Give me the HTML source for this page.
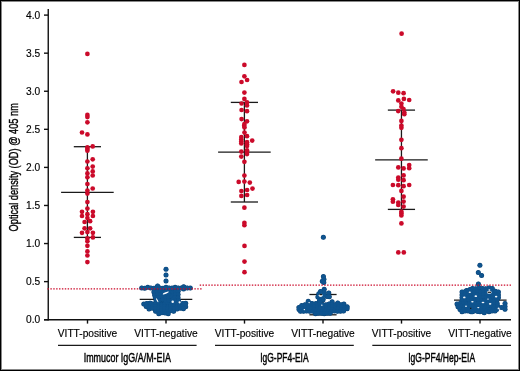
<!DOCTYPE html>
<html><head><meta charset="utf-8"><style>
html,body{margin:0;padding:0;background:#fff;}
#f{position:relative;width:520px;height:371px;overflow:hidden;background:#fff;}
#f svg{position:absolute;left:0;top:0;display:block;will-change:transform;}
#bd{position:absolute;left:0;top:0;width:518px;height:369px;border:1px solid #000;box-shadow:inset 0 0 0 1px #888;}
</style></head><body><div id="f">
<svg width="520" height="371" viewBox="0 0 520 371">
<g stroke="#111" stroke-width="1.4" fill="none">
<line x1="48.25" y1="9" x2="48.25" y2="320.4"/>
<line x1="44" y1="319.7" x2="511" y2="319.7"/>
<line x1="44" y1="319.70" x2="48.3" y2="319.70"/><line x1="44" y1="281.62" x2="48.3" y2="281.62"/><line x1="44" y1="243.55" x2="48.3" y2="243.55"/><line x1="44" y1="205.47" x2="48.3" y2="205.47"/><line x1="44" y1="167.40" x2="48.3" y2="167.40"/><line x1="44" y1="129.32" x2="48.3" y2="129.32"/><line x1="44" y1="91.25" x2="48.3" y2="91.25"/><line x1="44" y1="53.17" x2="48.3" y2="53.17"/><line x1="44" y1="15.10" x2="48.3" y2="15.10"/><line x1="87.5" y1="319.7" x2="87.5" y2="323.6"/><line x1="166" y1="319.7" x2="166" y2="323.6"/><line x1="244.5" y1="319.7" x2="244.5" y2="323.6"/><line x1="323" y1="319.7" x2="323" y2="323.6"/><line x1="401.5" y1="319.7" x2="401.5" y2="323.6"/><line x1="480" y1="319.7" x2="480" y2="323.6"/>
</g>
<g stroke="#1a1a1a" stroke-width="1.3" fill="none"><line x1="58" y1="345.4" x2="196.6" y2="345.4"/><line x1="215" y1="345.4" x2="353.8" y2="345.4"/><line x1="372.3" y1="345.4" x2="511" y2="345.4"/></g>
<g font-family="Liberation Sans, sans-serif" font-size="10.2" fill="#000" stroke="#000" stroke-width="0.15"><text x="40.2" y="323.10" text-anchor="end">0.0</text><text x="40.2" y="285.02" text-anchor="end">0.5</text><text x="40.2" y="246.95" text-anchor="end">1.0</text><text x="40.2" y="208.87" text-anchor="end">1.5</text><text x="40.2" y="170.80" text-anchor="end">2.0</text><text x="40.2" y="132.72" text-anchor="end">2.5</text><text x="40.2" y="94.65" text-anchor="end">3.0</text><text x="40.2" y="56.57" text-anchor="end">3.5</text><text x="40.2" y="18.50" text-anchor="end">4.0</text></g>
<g font-family="Liberation Sans, sans-serif" font-size="10.2" fill="#000" stroke="#000" stroke-width="0.15"><text x="87.5" y="336.6" text-anchor="middle">VITT-positive</text><text x="166" y="336.6" text-anchor="middle">VITT-negative</text><text x="244.5" y="336.6" text-anchor="middle">VITT-positive</text><text x="323" y="336.6" text-anchor="middle">VITT-negative</text><text x="401.5" y="336.6" text-anchor="middle">VITT-positive</text><text x="480" y="336.6" text-anchor="middle">VITT-negative</text></g>
<g font-family="Liberation Sans, sans-serif" font-size="12.8" fill="#000" stroke="#000" stroke-width="0.45"><text transform="translate(127.30 361.9) scale(0.698 1)" text-anchor="middle">Immucor IgG/A/M-EIA</text><text transform="translate(284.40 361.9) scale(0.661 1)" text-anchor="middle">IgG-PF4-EIA</text><text transform="translate(441.65 361.9) scale(0.6675 1)" text-anchor="middle">IgG-PF4/Hep-EIA</text></g>
<text transform="translate(17.7 167.3) rotate(-90) scale(0.684 1)" text-anchor="middle" font-family="Liberation Sans, sans-serif" font-size="13.5" fill="#000" stroke="#000" stroke-width="0.4">Optical density (OD) @ 405 nm</text>

<g stroke="#1a1a1a" stroke-width="1.3" fill="none">
<line x1="87.4" y1="146.7" x2="87.4" y2="237.4"/><line x1="73.80000000000001" y1="146.7" x2="101.0" y2="146.7"/><line x1="61.10000000000001" y1="192.4" x2="113.7" y2="192.4"/><line x1="73.80000000000001" y1="237.4" x2="101.0" y2="237.4"/>
<line x1="244.4" y1="102.4" x2="244.4" y2="202.0"/><line x1="230.8" y1="102.4" x2="258.0" y2="102.4"/><line x1="218.1" y1="152.1" x2="270.7" y2="152.1"/><line x1="230.8" y1="202.0" x2="258.0" y2="202.0"/>
<line x1="401.45" y1="110.1" x2="401.45" y2="209.4"/><line x1="387.84999999999997" y1="110.1" x2="415.05" y2="110.1"/><line x1="375.15" y1="159.8" x2="427.75" y2="159.8"/><line x1="387.84999999999997" y1="209.4" x2="415.05" y2="209.4"/>
<line x1="166" y1="293" x2="166" y2="308"/><line x1="152.4" y1="293" x2="179.6" y2="293"/><line x1="139.7" y1="299.3" x2="192.3" y2="299.3"/><line x1="152.4" y1="308" x2="179.6" y2="308"/>
<line x1="323" y1="294.5" x2="323" y2="314.8"/><line x1="309.4" y1="294.5" x2="336.6" y2="294.5"/><line x1="296.7" y1="306.8" x2="349.3" y2="306.8"/><line x1="309.4" y1="314.8" x2="336.6" y2="314.8"/>
<line x1="480.3" y1="291.7" x2="480.3" y2="308.5"/><line x1="466.7" y1="291.7" x2="493.90000000000003" y2="291.7"/><line x1="454.0" y1="300.1" x2="506.6" y2="300.1"/><line x1="466.7" y1="308.5" x2="493.90000000000003" y2="308.5"/>
</g>
<circle cx="87.40" cy="53.90" r="2.35" fill="#cb0a2a"/>
<circle cx="87.40" cy="114.90" r="2.35" fill="#cb0a2a"/>
<circle cx="87.40" cy="117.10" r="2.35" fill="#cb0a2a"/>
<circle cx="87.40" cy="122.30" r="2.35" fill="#cb0a2a"/>
<circle cx="82.00" cy="132.50" r="2.35" fill="#cb0a2a"/>
<circle cx="87.40" cy="134.40" r="2.35" fill="#cb0a2a"/>
<circle cx="92.70" cy="146.40" r="2.35" fill="#cb0a2a"/>
<circle cx="87.40" cy="147.40" r="2.35" fill="#cb0a2a"/>
<circle cx="87.40" cy="149.00" r="2.35" fill="#cb0a2a"/>
<circle cx="87.40" cy="150.70" r="2.35" fill="#cb0a2a"/>
<circle cx="92.70" cy="159.30" r="2.35" fill="#cb0a2a"/>
<circle cx="87.40" cy="161.50" r="2.35" fill="#cb0a2a"/>
<circle cx="92.70" cy="166.60" r="2.35" fill="#cb0a2a"/>
<circle cx="87.40" cy="168.30" r="2.35" fill="#cb0a2a"/>
<circle cx="92.70" cy="171.40" r="2.35" fill="#cb0a2a"/>
<circle cx="87.40" cy="173.40" r="2.35" fill="#cb0a2a"/>
<circle cx="92.70" cy="175.50" r="2.35" fill="#cb0a2a"/>
<circle cx="87.40" cy="177.30" r="2.35" fill="#cb0a2a"/>
<circle cx="87.40" cy="184.00" r="2.35" fill="#cb0a2a"/>
<circle cx="92.70" cy="188.50" r="2.35" fill="#cb0a2a"/>
<circle cx="87.40" cy="190.60" r="2.35" fill="#cb0a2a"/>
<circle cx="87.40" cy="193.60" r="2.35" fill="#cb0a2a"/>
<circle cx="87.40" cy="202.10" r="2.35" fill="#cb0a2a"/>
<circle cx="87.40" cy="208.60" r="2.35" fill="#cb0a2a"/>
<circle cx="82.00" cy="211.80" r="2.35" fill="#cb0a2a"/>
<circle cx="92.90" cy="211.80" r="2.35" fill="#cb0a2a"/>
<circle cx="87.40" cy="214.20" r="2.35" fill="#cb0a2a"/>
<circle cx="82.00" cy="216.00" r="2.35" fill="#cb0a2a"/>
<circle cx="92.90" cy="216.00" r="2.35" fill="#cb0a2a"/>
<circle cx="87.40" cy="218.00" r="2.35" fill="#cb0a2a"/>
<circle cx="84.60" cy="222.00" r="2.35" fill="#cb0a2a"/>
<circle cx="90.10" cy="221.20" r="2.35" fill="#cb0a2a"/>
<circle cx="84.60" cy="228.30" r="2.35" fill="#cb0a2a"/>
<circle cx="90.10" cy="228.30" r="2.35" fill="#cb0a2a"/>
<circle cx="82.00" cy="232.80" r="2.35" fill="#cb0a2a"/>
<circle cx="87.40" cy="232.10" r="2.35" fill="#cb0a2a"/>
<circle cx="92.90" cy="232.80" r="2.35" fill="#cb0a2a"/>
<circle cx="87.40" cy="238.40" r="2.35" fill="#cb0a2a"/>
<circle cx="92.90" cy="237.40" r="2.35" fill="#cb0a2a"/>
<circle cx="87.40" cy="241.30" r="2.35" fill="#cb0a2a"/>
<circle cx="87.40" cy="245.80" r="2.35" fill="#cb0a2a"/>
<circle cx="87.40" cy="251.40" r="2.35" fill="#cb0a2a"/>
<circle cx="87.40" cy="255.50" r="2.35" fill="#cb0a2a"/>
<circle cx="87.40" cy="262.10" r="2.35" fill="#cb0a2a"/>
<circle cx="244.40" cy="64.90" r="2.35" fill="#cb0a2a"/>
<circle cx="244.40" cy="76.30" r="2.35" fill="#cb0a2a"/>
<circle cx="247.10" cy="80.00" r="2.35" fill="#cb0a2a"/>
<circle cx="241.50" cy="82.00" r="2.35" fill="#cb0a2a"/>
<circle cx="244.40" cy="92.60" r="2.35" fill="#cb0a2a"/>
<circle cx="244.40" cy="98.90" r="2.35" fill="#cb0a2a"/>
<circle cx="241.60" cy="103.50" r="2.35" fill="#cb0a2a"/>
<circle cx="247.00" cy="102.40" r="2.35" fill="#cb0a2a"/>
<circle cx="247.00" cy="105.50" r="2.35" fill="#cb0a2a"/>
<circle cx="241.60" cy="110.00" r="2.35" fill="#cb0a2a"/>
<circle cx="247.00" cy="111.20" r="2.35" fill="#cb0a2a"/>
<circle cx="241.60" cy="119.10" r="2.35" fill="#cb0a2a"/>
<circle cx="247.00" cy="121.30" r="2.35" fill="#cb0a2a"/>
<circle cx="244.40" cy="124.00" r="2.35" fill="#cb0a2a"/>
<circle cx="244.20" cy="125.80" r="2.35" fill="#cb0a2a"/>
<circle cx="244.50" cy="127.50" r="2.35" fill="#cb0a2a"/>
<circle cx="244.50" cy="132.60" r="2.35" fill="#cb0a2a"/>
<circle cx="247.00" cy="136.20" r="2.35" fill="#cb0a2a"/>
<circle cx="241.30" cy="137.00" r="2.35" fill="#cb0a2a"/>
<circle cx="241.30" cy="139.40" r="2.35" fill="#cb0a2a"/>
<circle cx="241.30" cy="141.60" r="2.35" fill="#cb0a2a"/>
<circle cx="241.30" cy="143.50" r="2.35" fill="#cb0a2a"/>
<circle cx="252.20" cy="140.60" r="2.35" fill="#cb0a2a"/>
<circle cx="247.00" cy="142.20" r="2.35" fill="#cb0a2a"/>
<circle cx="247.00" cy="144.20" r="2.35" fill="#cb0a2a"/>
<circle cx="247.00" cy="145.90" r="2.35" fill="#cb0a2a"/>
<circle cx="241.30" cy="151.60" r="2.35" fill="#cb0a2a"/>
<circle cx="247.00" cy="150.30" r="2.35" fill="#cb0a2a"/>
<circle cx="247.00" cy="152.10" r="2.35" fill="#cb0a2a"/>
<circle cx="247.00" cy="154.10" r="2.35" fill="#cb0a2a"/>
<circle cx="241.30" cy="156.60" r="2.35" fill="#cb0a2a"/>
<circle cx="244.40" cy="161.80" r="2.35" fill="#cb0a2a"/>
<circle cx="244.40" cy="175.60" r="2.35" fill="#cb0a2a"/>
<circle cx="238.70" cy="181.90" r="2.35" fill="#cb0a2a"/>
<circle cx="244.40" cy="181.60" r="2.35" fill="#cb0a2a"/>
<circle cx="249.80" cy="182.60" r="2.35" fill="#cb0a2a"/>
<circle cx="252.50" cy="188.60" r="2.35" fill="#cb0a2a"/>
<circle cx="241.40" cy="191.00" r="2.35" fill="#cb0a2a"/>
<circle cx="247.10" cy="190.00" r="2.35" fill="#cb0a2a"/>
<circle cx="241.40" cy="195.90" r="2.35" fill="#cb0a2a"/>
<circle cx="247.10" cy="195.00" r="2.35" fill="#cb0a2a"/>
<circle cx="244.40" cy="207.70" r="2.35" fill="#cb0a2a"/>
<circle cx="244.40" cy="222.80" r="2.35" fill="#cb0a2a"/>
<circle cx="244.40" cy="225.20" r="2.35" fill="#cb0a2a"/>
<circle cx="244.50" cy="245.90" r="2.35" fill="#cb0a2a"/>
<circle cx="244.50" cy="261.60" r="2.35" fill="#cb0a2a"/>
<circle cx="244.50" cy="272.20" r="2.35" fill="#cb0a2a"/>
<circle cx="401.60" cy="33.70" r="2.35" fill="#cb0a2a"/>
<circle cx="393.10" cy="91.30" r="2.35" fill="#cb0a2a"/>
<circle cx="398.30" cy="92.70" r="2.35" fill="#cb0a2a"/>
<circle cx="403.60" cy="93.20" r="2.35" fill="#cb0a2a"/>
<circle cx="403.90" cy="98.90" r="2.35" fill="#cb0a2a"/>
<circle cx="409.20" cy="100.00" r="2.35" fill="#cb0a2a"/>
<circle cx="398.30" cy="100.40" r="2.35" fill="#cb0a2a"/>
<circle cx="401.40" cy="103.60" r="2.35" fill="#cb0a2a"/>
<circle cx="401.40" cy="106.80" r="2.35" fill="#cb0a2a"/>
<circle cx="403.50" cy="109.00" r="2.35" fill="#cb0a2a"/>
<circle cx="398.20" cy="111.10" r="2.35" fill="#cb0a2a"/>
<circle cx="404.30" cy="112.50" r="2.35" fill="#cb0a2a"/>
<circle cx="404.30" cy="114.20" r="2.35" fill="#cb0a2a"/>
<circle cx="401.40" cy="120.90" r="2.35" fill="#cb0a2a"/>
<circle cx="401.40" cy="125.60" r="2.35" fill="#cb0a2a"/>
<circle cx="401.40" cy="127.80" r="2.35" fill="#cb0a2a"/>
<circle cx="401.40" cy="139.80" r="2.35" fill="#cb0a2a"/>
<circle cx="401.40" cy="148.20" r="2.35" fill="#cb0a2a"/>
<circle cx="401.40" cy="158.70" r="2.35" fill="#cb0a2a"/>
<circle cx="409.20" cy="165.00" r="2.35" fill="#cb0a2a"/>
<circle cx="398.30" cy="167.40" r="2.35" fill="#cb0a2a"/>
<circle cx="403.60" cy="168.40" r="2.35" fill="#cb0a2a"/>
<circle cx="409.20" cy="168.20" r="2.35" fill="#cb0a2a"/>
<circle cx="403.60" cy="175.40" r="2.35" fill="#cb0a2a"/>
<circle cx="398.30" cy="177.50" r="2.35" fill="#cb0a2a"/>
<circle cx="398.30" cy="179.70" r="2.35" fill="#cb0a2a"/>
<circle cx="403.60" cy="180.20" r="2.35" fill="#cb0a2a"/>
<circle cx="392.90" cy="185.00" r="2.35" fill="#cb0a2a"/>
<circle cx="398.30" cy="185.20" r="2.35" fill="#cb0a2a"/>
<circle cx="403.60" cy="186.20" r="2.35" fill="#cb0a2a"/>
<circle cx="409.20" cy="185.00" r="2.35" fill="#cb0a2a"/>
<circle cx="401.40" cy="190.90" r="2.35" fill="#cb0a2a"/>
<circle cx="403.60" cy="196.70" r="2.35" fill="#cb0a2a"/>
<circle cx="392.90" cy="199.30" r="2.35" fill="#cb0a2a"/>
<circle cx="392.90" cy="201.70" r="2.35" fill="#cb0a2a"/>
<circle cx="398.30" cy="202.50" r="2.35" fill="#cb0a2a"/>
<circle cx="398.30" cy="205.00" r="2.35" fill="#cb0a2a"/>
<circle cx="403.60" cy="201.60" r="2.35" fill="#cb0a2a"/>
<circle cx="403.60" cy="206.60" r="2.35" fill="#cb0a2a"/>
<circle cx="401.40" cy="211.70" r="2.35" fill="#cb0a2a"/>
<circle cx="401.40" cy="213.40" r="2.35" fill="#cb0a2a"/>
<circle cx="401.40" cy="215.50" r="2.35" fill="#cb0a2a"/>
<circle cx="401.40" cy="223.40" r="2.35" fill="#cb0a2a"/>
<circle cx="398.30" cy="252.40" r="2.35" fill="#cb0a2a"/>
<circle cx="403.80" cy="252.40" r="2.35" fill="#cb0a2a"/>
<circle cx="166.00" cy="269.20" r="2.5" fill="#0a4274"/>
<circle cx="166.00" cy="275.00" r="2.5" fill="#0a4274"/>
<circle cx="166.00" cy="281.00" r="2.5" fill="#0a4274"/>
<circle cx="141.70" cy="287.95" r="2.5" fill="#0a4274"/>
<circle cx="144.74" cy="288.14" r="2.5" fill="#0a4274"/>
<circle cx="147.77" cy="287.31" r="2.5" fill="#0a4274"/>
<circle cx="150.81" cy="287.96" r="2.5" fill="#0a4274"/>
<circle cx="153.85" cy="288.13" r="2.5" fill="#0a4274"/>
<circle cx="156.89" cy="287.31" r="2.5" fill="#0a4274"/>
<circle cx="159.93" cy="287.96" r="2.5" fill="#0a4274"/>
<circle cx="162.96" cy="288.13" r="2.5" fill="#0a4274"/>
<circle cx="166.00" cy="287.31" r="2.5" fill="#0a4274"/>
<circle cx="169.04" cy="287.97" r="2.5" fill="#0a4274"/>
<circle cx="172.07" cy="288.12" r="2.5" fill="#0a4274"/>
<circle cx="175.11" cy="287.31" r="2.5" fill="#0a4274"/>
<circle cx="178.15" cy="287.98" r="2.5" fill="#0a4274"/>
<circle cx="181.19" cy="288.11" r="2.5" fill="#0a4274"/>
<circle cx="184.23" cy="287.31" r="2.5" fill="#0a4274"/>
<circle cx="187.26" cy="287.99" r="2.5" fill="#0a4274"/>
<circle cx="190.30" cy="288.11" r="2.5" fill="#0a4274"/>
<circle cx="157.60" cy="286.00" r="2.5" fill="#0a4274"/>
<circle cx="183.60" cy="286.80" r="2.5" fill="#0a4274"/>
<circle cx="183.60" cy="288.90" r="2.5" fill="#0a4274"/>
<circle cx="161.00" cy="288.60" r="2.5" fill="#0a4274"/>
<circle cx="172.00" cy="288.40" r="2.5" fill="#0a4274"/>
<circle cx="153.90" cy="292.02" r="2.5" fill="#0a4274"/>
<circle cx="156.93" cy="291.62" r="2.5" fill="#0a4274"/>
<circle cx="159.95" cy="291.16" r="2.5" fill="#0a4274"/>
<circle cx="162.97" cy="292.03" r="2.5" fill="#0a4274"/>
<circle cx="166.00" cy="291.61" r="2.5" fill="#0a4274"/>
<circle cx="169.03" cy="291.16" r="2.5" fill="#0a4274"/>
<circle cx="172.05" cy="292.03" r="2.5" fill="#0a4274"/>
<circle cx="175.07" cy="291.60" r="2.5" fill="#0a4274"/>
<circle cx="178.10" cy="291.17" r="2.5" fill="#0a4274"/>
<circle cx="154.60" cy="295.05" r="2.5" fill="#0a4274"/>
<circle cx="157.54" cy="294.19" r="2.5" fill="#0a4274"/>
<circle cx="160.47" cy="294.56" r="2.5" fill="#0a4274"/>
<circle cx="163.41" cy="295.05" r="2.5" fill="#0a4274"/>
<circle cx="166.35" cy="294.19" r="2.5" fill="#0a4274"/>
<circle cx="169.29" cy="294.57" r="2.5" fill="#0a4274"/>
<circle cx="172.22" cy="295.05" r="2.5" fill="#0a4274"/>
<circle cx="175.16" cy="294.18" r="2.5" fill="#0a4274"/>
<circle cx="178.10" cy="294.58" r="2.5" fill="#0a4274"/>
<circle cx="155.30" cy="297.54" r="2.5" fill="#0a4274"/>
<circle cx="158.54" cy="297.56" r="2.5" fill="#0a4274"/>
<circle cx="161.79" cy="296.80" r="2.5" fill="#0a4274"/>
<circle cx="165.03" cy="297.55" r="2.5" fill="#0a4274"/>
<circle cx="168.27" cy="297.55" r="2.5" fill="#0a4274"/>
<circle cx="171.51" cy="296.80" r="2.5" fill="#0a4274"/>
<circle cx="174.76" cy="297.55" r="2.5" fill="#0a4274"/>
<circle cx="178.00" cy="297.54" r="2.5" fill="#0a4274"/>
<circle cx="143.80" cy="304.08" r="2.5" fill="#0a4274"/>
<circle cx="146.79" cy="303.47" r="2.5" fill="#0a4274"/>
<circle cx="149.79" cy="303.25" r="2.5" fill="#0a4274"/>
<circle cx="152.78" cy="304.08" r="2.5" fill="#0a4274"/>
<circle cx="155.77" cy="303.46" r="2.5" fill="#0a4274"/>
<circle cx="158.76" cy="303.25" r="2.5" fill="#0a4274"/>
<circle cx="161.76" cy="304.09" r="2.5" fill="#0a4274"/>
<circle cx="164.75" cy="303.46" r="2.5" fill="#0a4274"/>
<circle cx="167.74" cy="303.26" r="2.5" fill="#0a4274"/>
<circle cx="170.74" cy="304.09" r="2.5" fill="#0a4274"/>
<circle cx="173.73" cy="303.45" r="2.5" fill="#0a4274"/>
<circle cx="176.72" cy="303.27" r="2.5" fill="#0a4274"/>
<circle cx="179.71" cy="304.09" r="2.5" fill="#0a4274"/>
<circle cx="182.71" cy="303.44" r="2.5" fill="#0a4274"/>
<circle cx="185.70" cy="303.27" r="2.5" fill="#0a4274"/>
<circle cx="146.20" cy="306.45" r="2.5" fill="#0a4274"/>
<circle cx="149.24" cy="306.80" r="2.5" fill="#0a4274"/>
<circle cx="152.28" cy="305.94" r="2.5" fill="#0a4274"/>
<circle cx="155.32" cy="306.46" r="2.5" fill="#0a4274"/>
<circle cx="158.35" cy="306.80" r="2.5" fill="#0a4274"/>
<circle cx="161.39" cy="305.94" r="2.5" fill="#0a4274"/>
<circle cx="164.43" cy="306.47" r="2.5" fill="#0a4274"/>
<circle cx="167.47" cy="306.79" r="2.5" fill="#0a4274"/>
<circle cx="170.51" cy="305.94" r="2.5" fill="#0a4274"/>
<circle cx="173.55" cy="306.47" r="2.5" fill="#0a4274"/>
<circle cx="176.58" cy="306.79" r="2.5" fill="#0a4274"/>
<circle cx="179.62" cy="305.93" r="2.5" fill="#0a4274"/>
<circle cx="182.66" cy="306.48" r="2.5" fill="#0a4274"/>
<circle cx="185.70" cy="306.78" r="2.5" fill="#0a4274"/>
<circle cx="149.00" cy="309.00" r="2.5" fill="#0a4274"/>
<circle cx="152.13" cy="308.14" r="2.5" fill="#0a4274"/>
<circle cx="155.25" cy="308.66" r="2.5" fill="#0a4274"/>
<circle cx="158.38" cy="309.00" r="2.5" fill="#0a4274"/>
<circle cx="161.51" cy="308.14" r="2.5" fill="#0a4274"/>
<circle cx="164.64" cy="308.67" r="2.5" fill="#0a4274"/>
<circle cx="167.76" cy="308.99" r="2.5" fill="#0a4274"/>
<circle cx="170.89" cy="308.14" r="2.5" fill="#0a4274"/>
<circle cx="174.02" cy="308.67" r="2.5" fill="#0a4274"/>
<circle cx="177.15" cy="308.99" r="2.5" fill="#0a4274"/>
<circle cx="180.27" cy="308.13" r="2.5" fill="#0a4274"/>
<circle cx="183.40" cy="308.68" r="2.5" fill="#0a4274"/>
<circle cx="155.60" cy="311.32" r="2.5" fill="#0a4274"/>
<circle cx="158.60" cy="311.17" r="2.5" fill="#0a4274"/>
<circle cx="161.60" cy="310.51" r="2.5" fill="#0a4274"/>
<circle cx="164.60" cy="311.33" r="2.5" fill="#0a4274"/>
<circle cx="167.60" cy="311.16" r="2.5" fill="#0a4274"/>
<circle cx="170.60" cy="310.51" r="2.5" fill="#0a4274"/>
<circle cx="173.60" cy="311.33" r="2.5" fill="#0a4274"/>
<circle cx="158.80" cy="313.67" r="2.5" fill="#0a4274"/>
<circle cx="161.93" cy="312.82" r="2.5" fill="#0a4274"/>
<circle cx="165.07" cy="313.11" r="2.5" fill="#0a4274"/>
<circle cx="168.20" cy="313.67" r="2.5" fill="#0a4274"/>
<circle cx="150.50" cy="303.30" r="2.5" fill="#0a4274"/>
<circle cx="184.80" cy="304.00" r="2.5" fill="#0a4274"/>
<circle cx="156.00" cy="300.79" r="2.5" fill="#0a4274"/>
<circle cx="159.21" cy="300.47" r="2.5" fill="#0a4274"/>
<circle cx="162.43" cy="299.94" r="2.5" fill="#0a4274"/>
<circle cx="165.64" cy="300.80" r="2.5" fill="#0a4274"/>
<circle cx="168.86" cy="300.46" r="2.5" fill="#0a4274"/>
<circle cx="172.07" cy="299.94" r="2.5" fill="#0a4274"/>
<circle cx="175.29" cy="300.80" r="2.5" fill="#0a4274"/>
<circle cx="178.50" cy="300.45" r="2.5" fill="#0a4274"/>
<circle cx="166.00" cy="269.20" r="2.15" fill="#0f548f"/>
<circle cx="166.00" cy="275.00" r="2.15" fill="#0f548f"/>
<circle cx="166.00" cy="281.00" r="2.15" fill="#0f548f"/>
<circle cx="141.70" cy="287.95" r="2.15" fill="#0f548f"/>
<circle cx="144.74" cy="288.14" r="2.15" fill="#0f548f"/>
<circle cx="147.77" cy="287.31" r="2.15" fill="#0f548f"/>
<circle cx="150.81" cy="287.96" r="2.15" fill="#0f548f"/>
<circle cx="153.85" cy="288.13" r="2.15" fill="#0f548f"/>
<circle cx="156.89" cy="287.31" r="2.15" fill="#0f548f"/>
<circle cx="159.93" cy="287.96" r="2.15" fill="#0f548f"/>
<circle cx="162.96" cy="288.13" r="2.15" fill="#0f548f"/>
<circle cx="166.00" cy="287.31" r="2.15" fill="#0f548f"/>
<circle cx="169.04" cy="287.97" r="2.15" fill="#0f548f"/>
<circle cx="172.07" cy="288.12" r="2.15" fill="#0f548f"/>
<circle cx="175.11" cy="287.31" r="2.15" fill="#0f548f"/>
<circle cx="178.15" cy="287.98" r="2.15" fill="#0f548f"/>
<circle cx="181.19" cy="288.11" r="2.15" fill="#0f548f"/>
<circle cx="184.23" cy="287.31" r="2.15" fill="#0f548f"/>
<circle cx="187.26" cy="287.99" r="2.15" fill="#0f548f"/>
<circle cx="190.30" cy="288.11" r="2.15" fill="#0f548f"/>
<circle cx="157.60" cy="286.00" r="2.15" fill="#0f548f"/>
<circle cx="183.60" cy="286.80" r="2.15" fill="#0f548f"/>
<circle cx="183.60" cy="288.90" r="2.15" fill="#0f548f"/>
<circle cx="161.00" cy="288.60" r="2.15" fill="#0f548f"/>
<circle cx="172.00" cy="288.40" r="2.15" fill="#0f548f"/>
<circle cx="153.90" cy="292.02" r="2.15" fill="#0f548f"/>
<circle cx="156.93" cy="291.62" r="2.15" fill="#0f548f"/>
<circle cx="159.95" cy="291.16" r="2.15" fill="#0f548f"/>
<circle cx="162.97" cy="292.03" r="2.15" fill="#0f548f"/>
<circle cx="166.00" cy="291.61" r="2.15" fill="#0f548f"/>
<circle cx="169.03" cy="291.16" r="2.15" fill="#0f548f"/>
<circle cx="172.05" cy="292.03" r="2.15" fill="#0f548f"/>
<circle cx="175.07" cy="291.60" r="2.15" fill="#0f548f"/>
<circle cx="178.10" cy="291.17" r="2.15" fill="#0f548f"/>
<circle cx="154.60" cy="295.05" r="2.15" fill="#0f548f"/>
<circle cx="157.54" cy="294.19" r="2.15" fill="#0f548f"/>
<circle cx="160.47" cy="294.56" r="2.15" fill="#0f548f"/>
<circle cx="163.41" cy="295.05" r="2.15" fill="#0f548f"/>
<circle cx="166.35" cy="294.19" r="2.15" fill="#0f548f"/>
<circle cx="169.29" cy="294.57" r="2.15" fill="#0f548f"/>
<circle cx="172.22" cy="295.05" r="2.15" fill="#0f548f"/>
<circle cx="175.16" cy="294.18" r="2.15" fill="#0f548f"/>
<circle cx="178.10" cy="294.58" r="2.15" fill="#0f548f"/>
<circle cx="155.30" cy="297.54" r="2.15" fill="#0f548f"/>
<circle cx="158.54" cy="297.56" r="2.15" fill="#0f548f"/>
<circle cx="161.79" cy="296.80" r="2.15" fill="#0f548f"/>
<circle cx="165.03" cy="297.55" r="2.15" fill="#0f548f"/>
<circle cx="168.27" cy="297.55" r="2.15" fill="#0f548f"/>
<circle cx="171.51" cy="296.80" r="2.15" fill="#0f548f"/>
<circle cx="174.76" cy="297.55" r="2.15" fill="#0f548f"/>
<circle cx="178.00" cy="297.54" r="2.15" fill="#0f548f"/>
<circle cx="143.80" cy="304.08" r="2.15" fill="#0f548f"/>
<circle cx="146.79" cy="303.47" r="2.15" fill="#0f548f"/>
<circle cx="149.79" cy="303.25" r="2.15" fill="#0f548f"/>
<circle cx="152.78" cy="304.08" r="2.15" fill="#0f548f"/>
<circle cx="155.77" cy="303.46" r="2.15" fill="#0f548f"/>
<circle cx="158.76" cy="303.25" r="2.15" fill="#0f548f"/>
<circle cx="161.76" cy="304.09" r="2.15" fill="#0f548f"/>
<circle cx="164.75" cy="303.46" r="2.15" fill="#0f548f"/>
<circle cx="167.74" cy="303.26" r="2.15" fill="#0f548f"/>
<circle cx="170.74" cy="304.09" r="2.15" fill="#0f548f"/>
<circle cx="173.73" cy="303.45" r="2.15" fill="#0f548f"/>
<circle cx="176.72" cy="303.27" r="2.15" fill="#0f548f"/>
<circle cx="179.71" cy="304.09" r="2.15" fill="#0f548f"/>
<circle cx="182.71" cy="303.44" r="2.15" fill="#0f548f"/>
<circle cx="185.70" cy="303.27" r="2.15" fill="#0f548f"/>
<circle cx="146.20" cy="306.45" r="2.15" fill="#0f548f"/>
<circle cx="149.24" cy="306.80" r="2.15" fill="#0f548f"/>
<circle cx="152.28" cy="305.94" r="2.15" fill="#0f548f"/>
<circle cx="155.32" cy="306.46" r="2.15" fill="#0f548f"/>
<circle cx="158.35" cy="306.80" r="2.15" fill="#0f548f"/>
<circle cx="161.39" cy="305.94" r="2.15" fill="#0f548f"/>
<circle cx="164.43" cy="306.47" r="2.15" fill="#0f548f"/>
<circle cx="167.47" cy="306.79" r="2.15" fill="#0f548f"/>
<circle cx="170.51" cy="305.94" r="2.15" fill="#0f548f"/>
<circle cx="173.55" cy="306.47" r="2.15" fill="#0f548f"/>
<circle cx="176.58" cy="306.79" r="2.15" fill="#0f548f"/>
<circle cx="179.62" cy="305.93" r="2.15" fill="#0f548f"/>
<circle cx="182.66" cy="306.48" r="2.15" fill="#0f548f"/>
<circle cx="185.70" cy="306.78" r="2.15" fill="#0f548f"/>
<circle cx="149.00" cy="309.00" r="2.15" fill="#0f548f"/>
<circle cx="152.13" cy="308.14" r="2.15" fill="#0f548f"/>
<circle cx="155.25" cy="308.66" r="2.15" fill="#0f548f"/>
<circle cx="158.38" cy="309.00" r="2.15" fill="#0f548f"/>
<circle cx="161.51" cy="308.14" r="2.15" fill="#0f548f"/>
<circle cx="164.64" cy="308.67" r="2.15" fill="#0f548f"/>
<circle cx="167.76" cy="308.99" r="2.15" fill="#0f548f"/>
<circle cx="170.89" cy="308.14" r="2.15" fill="#0f548f"/>
<circle cx="174.02" cy="308.67" r="2.15" fill="#0f548f"/>
<circle cx="177.15" cy="308.99" r="2.15" fill="#0f548f"/>
<circle cx="180.27" cy="308.13" r="2.15" fill="#0f548f"/>
<circle cx="183.40" cy="308.68" r="2.15" fill="#0f548f"/>
<circle cx="155.60" cy="311.32" r="2.15" fill="#0f548f"/>
<circle cx="158.60" cy="311.17" r="2.15" fill="#0f548f"/>
<circle cx="161.60" cy="310.51" r="2.15" fill="#0f548f"/>
<circle cx="164.60" cy="311.33" r="2.15" fill="#0f548f"/>
<circle cx="167.60" cy="311.16" r="2.15" fill="#0f548f"/>
<circle cx="170.60" cy="310.51" r="2.15" fill="#0f548f"/>
<circle cx="173.60" cy="311.33" r="2.15" fill="#0f548f"/>
<circle cx="158.80" cy="313.67" r="2.15" fill="#0f548f"/>
<circle cx="161.93" cy="312.82" r="2.15" fill="#0f548f"/>
<circle cx="165.07" cy="313.11" r="2.15" fill="#0f548f"/>
<circle cx="168.20" cy="313.67" r="2.15" fill="#0f548f"/>
<circle cx="150.50" cy="303.30" r="2.15" fill="#0f548f"/>
<circle cx="184.80" cy="304.00" r="2.15" fill="#0f548f"/>
<circle cx="156.00" cy="300.79" r="2.15" fill="#0f548f"/>
<circle cx="159.21" cy="300.47" r="2.15" fill="#0f548f"/>
<circle cx="162.43" cy="299.94" r="2.15" fill="#0f548f"/>
<circle cx="165.64" cy="300.80" r="2.15" fill="#0f548f"/>
<circle cx="168.86" cy="300.46" r="2.15" fill="#0f548f"/>
<circle cx="172.07" cy="299.94" r="2.15" fill="#0f548f"/>
<circle cx="175.29" cy="300.80" r="2.15" fill="#0f548f"/>
<circle cx="178.50" cy="300.45" r="2.15" fill="#0f548f"/>
<circle cx="323.40" cy="276.60" r="2.5" fill="#0a4274"/>
<circle cx="323.90" cy="279.30" r="2.5" fill="#0a4274"/>
<circle cx="322.30" cy="281.20" r="2.5" fill="#0a4274"/>
<circle cx="323.80" cy="282.60" r="2.5" fill="#0a4274"/>
<circle cx="324.20" cy="289.30" r="2.5" fill="#0a4274"/>
<circle cx="320.50" cy="291.50" r="2.5" fill="#0a4274"/>
<circle cx="318.80" cy="293.80" r="2.5" fill="#0a4274"/>
<circle cx="324.20" cy="292.50" r="2.5" fill="#0a4274"/>
<circle cx="328.80" cy="293.00" r="2.5" fill="#0a4274"/>
<circle cx="317.90" cy="297.00" r="2.5" fill="#0a4274"/>
<circle cx="322.00" cy="297.60" r="2.5" fill="#0a4274"/>
<circle cx="327.00" cy="296.50" r="2.5" fill="#0a4274"/>
<circle cx="329.30" cy="296.80" r="2.5" fill="#0a4274"/>
<circle cx="324.00" cy="295.00" r="2.5" fill="#0a4274"/>
<circle cx="323.20" cy="299.80" r="2.5" fill="#0a4274"/>
<circle cx="319.50" cy="300.50" r="2.5" fill="#0a4274"/>
<circle cx="308.20" cy="301.30" r="2.5" fill="#0a4274"/>
<circle cx="332.10" cy="301.80" r="2.5" fill="#0a4274"/>
<circle cx="337.70" cy="302.90" r="2.5" fill="#0a4274"/>
<circle cx="343.90" cy="304.10" r="2.5" fill="#0a4274"/>
<circle cx="312.00" cy="303.50" r="2.5" fill="#0a4274"/>
<circle cx="316.00" cy="303.50" r="2.5" fill="#0a4274"/>
<circle cx="320.00" cy="302.00" r="2.5" fill="#0a4274"/>
<circle cx="301.70" cy="305.60" r="2.5" fill="#0a4274"/>
<circle cx="305.00" cy="304.69" r="2.5" fill="#0a4274"/>
<circle cx="308.00" cy="304.80" r="2.5" fill="#0a4274"/>
<circle cx="311.00" cy="304.00" r="2.5" fill="#0a4274"/>
<circle cx="314.00" cy="304.70" r="2.5" fill="#0a4274"/>
<circle cx="317.00" cy="304.79" r="2.5" fill="#0a4274"/>
<circle cx="320.00" cy="304.00" r="2.5" fill="#0a4274"/>
<circle cx="323.00" cy="304.71" r="2.5" fill="#0a4274"/>
<circle cx="326.00" cy="304.79" r="2.5" fill="#0a4274"/>
<circle cx="329.00" cy="304.00" r="2.5" fill="#0a4274"/>
<circle cx="332.00" cy="304.72" r="2.5" fill="#0a4274"/>
<circle cx="335.00" cy="304.78" r="2.5" fill="#0a4274"/>
<circle cx="338.00" cy="304.00" r="2.5" fill="#0a4274"/>
<circle cx="341.00" cy="304.73" r="2.5" fill="#0a4274"/>
<circle cx="299.00" cy="307.49" r="2.5" fill="#0a4274"/>
<circle cx="302.01" cy="306.82" r="2.5" fill="#0a4274"/>
<circle cx="305.01" cy="306.68" r="2.5" fill="#0a4274"/>
<circle cx="308.02" cy="307.49" r="2.5" fill="#0a4274"/>
<circle cx="311.02" cy="306.82" r="2.5" fill="#0a4274"/>
<circle cx="314.03" cy="306.69" r="2.5" fill="#0a4274"/>
<circle cx="317.04" cy="307.50" r="2.5" fill="#0a4274"/>
<circle cx="320.04" cy="306.81" r="2.5" fill="#0a4274"/>
<circle cx="323.05" cy="306.70" r="2.5" fill="#0a4274"/>
<circle cx="326.06" cy="307.50" r="2.5" fill="#0a4274"/>
<circle cx="329.06" cy="306.80" r="2.5" fill="#0a4274"/>
<circle cx="332.07" cy="306.70" r="2.5" fill="#0a4274"/>
<circle cx="335.08" cy="307.50" r="2.5" fill="#0a4274"/>
<circle cx="338.08" cy="306.79" r="2.5" fill="#0a4274"/>
<circle cx="341.09" cy="306.71" r="2.5" fill="#0a4274"/>
<circle cx="344.09" cy="307.50" r="2.5" fill="#0a4274"/>
<circle cx="347.10" cy="306.79" r="2.5" fill="#0a4274"/>
<circle cx="299.00" cy="309.50" r="2.5" fill="#0a4274"/>
<circle cx="302.01" cy="308.70" r="2.5" fill="#0a4274"/>
<circle cx="305.01" cy="309.40" r="2.5" fill="#0a4274"/>
<circle cx="308.02" cy="309.49" r="2.5" fill="#0a4274"/>
<circle cx="311.02" cy="308.70" r="2.5" fill="#0a4274"/>
<circle cx="314.03" cy="309.41" r="2.5" fill="#0a4274"/>
<circle cx="317.04" cy="309.49" r="2.5" fill="#0a4274"/>
<circle cx="320.04" cy="308.70" r="2.5" fill="#0a4274"/>
<circle cx="323.05" cy="309.42" r="2.5" fill="#0a4274"/>
<circle cx="326.06" cy="309.48" r="2.5" fill="#0a4274"/>
<circle cx="329.06" cy="308.70" r="2.5" fill="#0a4274"/>
<circle cx="332.07" cy="309.43" r="2.5" fill="#0a4274"/>
<circle cx="335.08" cy="309.47" r="2.5" fill="#0a4274"/>
<circle cx="338.08" cy="308.70" r="2.5" fill="#0a4274"/>
<circle cx="341.09" cy="309.43" r="2.5" fill="#0a4274"/>
<circle cx="344.09" cy="309.46" r="2.5" fill="#0a4274"/>
<circle cx="347.10" cy="308.70" r="2.5" fill="#0a4274"/>
<circle cx="300.50" cy="311.36" r="2.5" fill="#0a4274"/>
<circle cx="303.57" cy="311.23" r="2.5" fill="#0a4274"/>
<circle cx="306.64" cy="311.01" r="2.5" fill="#0a4274"/>
<circle cx="309.71" cy="311.36" r="2.5" fill="#0a4274"/>
<circle cx="312.79" cy="311.22" r="2.5" fill="#0a4274"/>
<circle cx="315.86" cy="311.02" r="2.5" fill="#0a4274"/>
<circle cx="318.93" cy="311.36" r="2.5" fill="#0a4274"/>
<circle cx="322.00" cy="311.22" r="2.5" fill="#0a4274"/>
<circle cx="325.07" cy="311.02" r="2.5" fill="#0a4274"/>
<circle cx="328.14" cy="311.36" r="2.5" fill="#0a4274"/>
<circle cx="331.21" cy="311.22" r="2.5" fill="#0a4274"/>
<circle cx="334.29" cy="311.02" r="2.5" fill="#0a4274"/>
<circle cx="337.36" cy="311.36" r="2.5" fill="#0a4274"/>
<circle cx="340.43" cy="311.21" r="2.5" fill="#0a4274"/>
<circle cx="343.50" cy="311.02" r="2.5" fill="#0a4274"/>
<circle cx="315.50" cy="313.70" r="2.5" fill="#0a4274"/>
<circle cx="318.40" cy="313.22" r="2.5" fill="#0a4274"/>
<circle cx="321.30" cy="313.29" r="2.5" fill="#0a4274"/>
<circle cx="324.20" cy="313.70" r="2.5" fill="#0a4274"/>
<circle cx="327.10" cy="313.21" r="2.5" fill="#0a4274"/>
<circle cx="330.00" cy="313.29" r="2.5" fill="#0a4274"/>
<circle cx="323.35" cy="237.25" r="2.5" fill="#0a4274"/>
<circle cx="323.40" cy="276.60" r="2.15" fill="#0f548f"/>
<circle cx="323.90" cy="279.30" r="2.15" fill="#0f548f"/>
<circle cx="322.30" cy="281.20" r="2.15" fill="#0f548f"/>
<circle cx="323.80" cy="282.60" r="2.15" fill="#0f548f"/>
<circle cx="324.20" cy="289.30" r="2.15" fill="#0f548f"/>
<circle cx="320.50" cy="291.50" r="2.15" fill="#0f548f"/>
<circle cx="318.80" cy="293.80" r="2.15" fill="#0f548f"/>
<circle cx="324.20" cy="292.50" r="2.15" fill="#0f548f"/>
<circle cx="328.80" cy="293.00" r="2.15" fill="#0f548f"/>
<circle cx="317.90" cy="297.00" r="2.15" fill="#0f548f"/>
<circle cx="322.00" cy="297.60" r="2.15" fill="#0f548f"/>
<circle cx="327.00" cy="296.50" r="2.15" fill="#0f548f"/>
<circle cx="329.30" cy="296.80" r="2.15" fill="#0f548f"/>
<circle cx="324.00" cy="295.00" r="2.15" fill="#0f548f"/>
<circle cx="323.20" cy="299.80" r="2.15" fill="#0f548f"/>
<circle cx="319.50" cy="300.50" r="2.15" fill="#0f548f"/>
<circle cx="308.20" cy="301.30" r="2.15" fill="#0f548f"/>
<circle cx="332.10" cy="301.80" r="2.15" fill="#0f548f"/>
<circle cx="337.70" cy="302.90" r="2.15" fill="#0f548f"/>
<circle cx="343.90" cy="304.10" r="2.15" fill="#0f548f"/>
<circle cx="312.00" cy="303.50" r="2.15" fill="#0f548f"/>
<circle cx="316.00" cy="303.50" r="2.15" fill="#0f548f"/>
<circle cx="320.00" cy="302.00" r="2.15" fill="#0f548f"/>
<circle cx="301.70" cy="305.60" r="2.15" fill="#0f548f"/>
<circle cx="305.00" cy="304.69" r="2.15" fill="#0f548f"/>
<circle cx="308.00" cy="304.80" r="2.15" fill="#0f548f"/>
<circle cx="311.00" cy="304.00" r="2.15" fill="#0f548f"/>
<circle cx="314.00" cy="304.70" r="2.15" fill="#0f548f"/>
<circle cx="317.00" cy="304.79" r="2.15" fill="#0f548f"/>
<circle cx="320.00" cy="304.00" r="2.15" fill="#0f548f"/>
<circle cx="323.00" cy="304.71" r="2.15" fill="#0f548f"/>
<circle cx="326.00" cy="304.79" r="2.15" fill="#0f548f"/>
<circle cx="329.00" cy="304.00" r="2.15" fill="#0f548f"/>
<circle cx="332.00" cy="304.72" r="2.15" fill="#0f548f"/>
<circle cx="335.00" cy="304.78" r="2.15" fill="#0f548f"/>
<circle cx="338.00" cy="304.00" r="2.15" fill="#0f548f"/>
<circle cx="341.00" cy="304.73" r="2.15" fill="#0f548f"/>
<circle cx="299.00" cy="307.49" r="2.15" fill="#0f548f"/>
<circle cx="302.01" cy="306.82" r="2.15" fill="#0f548f"/>
<circle cx="305.01" cy="306.68" r="2.15" fill="#0f548f"/>
<circle cx="308.02" cy="307.49" r="2.15" fill="#0f548f"/>
<circle cx="311.02" cy="306.82" r="2.15" fill="#0f548f"/>
<circle cx="314.03" cy="306.69" r="2.15" fill="#0f548f"/>
<circle cx="317.04" cy="307.50" r="2.15" fill="#0f548f"/>
<circle cx="320.04" cy="306.81" r="2.15" fill="#0f548f"/>
<circle cx="323.05" cy="306.70" r="2.15" fill="#0f548f"/>
<circle cx="326.06" cy="307.50" r="2.15" fill="#0f548f"/>
<circle cx="329.06" cy="306.80" r="2.15" fill="#0f548f"/>
<circle cx="332.07" cy="306.70" r="2.15" fill="#0f548f"/>
<circle cx="335.08" cy="307.50" r="2.15" fill="#0f548f"/>
<circle cx="338.08" cy="306.79" r="2.15" fill="#0f548f"/>
<circle cx="341.09" cy="306.71" r="2.15" fill="#0f548f"/>
<circle cx="344.09" cy="307.50" r="2.15" fill="#0f548f"/>
<circle cx="347.10" cy="306.79" r="2.15" fill="#0f548f"/>
<circle cx="299.00" cy="309.50" r="2.15" fill="#0f548f"/>
<circle cx="302.01" cy="308.70" r="2.15" fill="#0f548f"/>
<circle cx="305.01" cy="309.40" r="2.15" fill="#0f548f"/>
<circle cx="308.02" cy="309.49" r="2.15" fill="#0f548f"/>
<circle cx="311.02" cy="308.70" r="2.15" fill="#0f548f"/>
<circle cx="314.03" cy="309.41" r="2.15" fill="#0f548f"/>
<circle cx="317.04" cy="309.49" r="2.15" fill="#0f548f"/>
<circle cx="320.04" cy="308.70" r="2.15" fill="#0f548f"/>
<circle cx="323.05" cy="309.42" r="2.15" fill="#0f548f"/>
<circle cx="326.06" cy="309.48" r="2.15" fill="#0f548f"/>
<circle cx="329.06" cy="308.70" r="2.15" fill="#0f548f"/>
<circle cx="332.07" cy="309.43" r="2.15" fill="#0f548f"/>
<circle cx="335.08" cy="309.47" r="2.15" fill="#0f548f"/>
<circle cx="338.08" cy="308.70" r="2.15" fill="#0f548f"/>
<circle cx="341.09" cy="309.43" r="2.15" fill="#0f548f"/>
<circle cx="344.09" cy="309.46" r="2.15" fill="#0f548f"/>
<circle cx="347.10" cy="308.70" r="2.15" fill="#0f548f"/>
<circle cx="300.50" cy="311.36" r="2.15" fill="#0f548f"/>
<circle cx="303.57" cy="311.23" r="2.15" fill="#0f548f"/>
<circle cx="306.64" cy="311.01" r="2.15" fill="#0f548f"/>
<circle cx="309.71" cy="311.36" r="2.15" fill="#0f548f"/>
<circle cx="312.79" cy="311.22" r="2.15" fill="#0f548f"/>
<circle cx="315.86" cy="311.02" r="2.15" fill="#0f548f"/>
<circle cx="318.93" cy="311.36" r="2.15" fill="#0f548f"/>
<circle cx="322.00" cy="311.22" r="2.15" fill="#0f548f"/>
<circle cx="325.07" cy="311.02" r="2.15" fill="#0f548f"/>
<circle cx="328.14" cy="311.36" r="2.15" fill="#0f548f"/>
<circle cx="331.21" cy="311.22" r="2.15" fill="#0f548f"/>
<circle cx="334.29" cy="311.02" r="2.15" fill="#0f548f"/>
<circle cx="337.36" cy="311.36" r="2.15" fill="#0f548f"/>
<circle cx="340.43" cy="311.21" r="2.15" fill="#0f548f"/>
<circle cx="343.50" cy="311.02" r="2.15" fill="#0f548f"/>
<circle cx="315.50" cy="313.70" r="2.15" fill="#0f548f"/>
<circle cx="318.40" cy="313.22" r="2.15" fill="#0f548f"/>
<circle cx="321.30" cy="313.29" r="2.15" fill="#0f548f"/>
<circle cx="324.20" cy="313.70" r="2.15" fill="#0f548f"/>
<circle cx="327.10" cy="313.21" r="2.15" fill="#0f548f"/>
<circle cx="330.00" cy="313.29" r="2.15" fill="#0f548f"/>
<circle cx="323.35" cy="237.25" r="2.15" fill="#0f548f"/>
<circle cx="479.90" cy="265.30" r="2.5" fill="#0a4274"/>
<circle cx="478.30" cy="272.60" r="2.5" fill="#0a4274"/>
<circle cx="481.60" cy="275.40" r="2.5" fill="#0a4274"/>
<circle cx="478.40" cy="283.90" r="2.5" fill="#0a4274"/>
<circle cx="472.50" cy="288.50" r="2.5" fill="#0a4274"/>
<circle cx="475.80" cy="288.77" r="2.5" fill="#0a4274"/>
<circle cx="479.10" cy="287.92" r="2.5" fill="#0a4274"/>
<circle cx="482.40" cy="288.51" r="2.5" fill="#0a4274"/>
<circle cx="485.70" cy="288.77" r="2.5" fill="#0a4274"/>
<circle cx="489.00" cy="287.92" r="2.5" fill="#0a4274"/>
<circle cx="492.30" cy="288.52" r="2.5" fill="#0a4274"/>
<circle cx="466.50" cy="290.60" r="2.5" fill="#0a4274"/>
<circle cx="470.00" cy="289.50" r="2.5" fill="#0a4274"/>
<circle cx="462.00" cy="291.96" r="2.5" fill="#0a4274"/>
<circle cx="465.03" cy="291.72" r="2.5" fill="#0a4274"/>
<circle cx="468.07" cy="291.12" r="2.5" fill="#0a4274"/>
<circle cx="471.10" cy="291.96" r="2.5" fill="#0a4274"/>
<circle cx="474.13" cy="291.71" r="2.5" fill="#0a4274"/>
<circle cx="477.17" cy="291.12" r="2.5" fill="#0a4274"/>
<circle cx="480.20" cy="291.97" r="2.5" fill="#0a4274"/>
<circle cx="483.23" cy="291.70" r="2.5" fill="#0a4274"/>
<circle cx="486.27" cy="291.13" r="2.5" fill="#0a4274"/>
<circle cx="489.30" cy="291.98" r="2.5" fill="#0a4274"/>
<circle cx="492.33" cy="291.69" r="2.5" fill="#0a4274"/>
<circle cx="495.37" cy="291.13" r="2.5" fill="#0a4274"/>
<circle cx="498.40" cy="291.98" r="2.5" fill="#0a4274"/>
<circle cx="462.00" cy="295.09" r="2.5" fill="#0a4274"/>
<circle cx="465.03" cy="294.26" r="2.5" fill="#0a4274"/>
<circle cx="468.07" cy="294.46" r="2.5" fill="#0a4274"/>
<circle cx="471.10" cy="295.08" r="2.5" fill="#0a4274"/>
<circle cx="474.13" cy="294.25" r="2.5" fill="#0a4274"/>
<circle cx="477.17" cy="294.47" r="2.5" fill="#0a4274"/>
<circle cx="480.20" cy="295.08" r="2.5" fill="#0a4274"/>
<circle cx="483.23" cy="294.24" r="2.5" fill="#0a4274"/>
<circle cx="486.27" cy="294.48" r="2.5" fill="#0a4274"/>
<circle cx="489.30" cy="295.08" r="2.5" fill="#0a4274"/>
<circle cx="492.33" cy="294.24" r="2.5" fill="#0a4274"/>
<circle cx="495.37" cy="294.48" r="2.5" fill="#0a4274"/>
<circle cx="498.40" cy="295.08" r="2.5" fill="#0a4274"/>
<circle cx="462.00" cy="297.77" r="2.5" fill="#0a4274"/>
<circle cx="465.03" cy="297.11" r="2.5" fill="#0a4274"/>
<circle cx="468.07" cy="297.93" r="2.5" fill="#0a4274"/>
<circle cx="471.10" cy="297.76" r="2.5" fill="#0a4274"/>
<circle cx="474.13" cy="297.11" r="2.5" fill="#0a4274"/>
<circle cx="477.17" cy="297.93" r="2.5" fill="#0a4274"/>
<circle cx="480.20" cy="297.75" r="2.5" fill="#0a4274"/>
<circle cx="483.23" cy="297.11" r="2.5" fill="#0a4274"/>
<circle cx="486.27" cy="297.94" r="2.5" fill="#0a4274"/>
<circle cx="489.30" cy="297.74" r="2.5" fill="#0a4274"/>
<circle cx="492.33" cy="297.11" r="2.5" fill="#0a4274"/>
<circle cx="495.37" cy="297.95" r="2.5" fill="#0a4274"/>
<circle cx="498.40" cy="297.74" r="2.5" fill="#0a4274"/>
<circle cx="462.00" cy="300.65" r="2.5" fill="#0a4274"/>
<circle cx="465.18" cy="300.84" r="2.5" fill="#0a4274"/>
<circle cx="468.36" cy="300.01" r="2.5" fill="#0a4274"/>
<circle cx="471.55" cy="300.66" r="2.5" fill="#0a4274"/>
<circle cx="474.73" cy="300.83" r="2.5" fill="#0a4274"/>
<circle cx="477.91" cy="300.01" r="2.5" fill="#0a4274"/>
<circle cx="481.09" cy="300.66" r="2.5" fill="#0a4274"/>
<circle cx="484.27" cy="300.83" r="2.5" fill="#0a4274"/>
<circle cx="487.45" cy="300.01" r="2.5" fill="#0a4274"/>
<circle cx="490.64" cy="300.67" r="2.5" fill="#0a4274"/>
<circle cx="493.82" cy="300.82" r="2.5" fill="#0a4274"/>
<circle cx="497.00" cy="300.01" r="2.5" fill="#0a4274"/>
<circle cx="457.00" cy="303.95" r="2.5" fill="#0a4274"/>
<circle cx="460.09" cy="303.47" r="2.5" fill="#0a4274"/>
<circle cx="463.18" cy="303.08" r="2.5" fill="#0a4274"/>
<circle cx="466.28" cy="303.95" r="2.5" fill="#0a4274"/>
<circle cx="469.37" cy="303.46" r="2.5" fill="#0a4274"/>
<circle cx="472.46" cy="303.09" r="2.5" fill="#0a4274"/>
<circle cx="475.55" cy="303.95" r="2.5" fill="#0a4274"/>
<circle cx="478.65" cy="303.45" r="2.5" fill="#0a4274"/>
<circle cx="481.74" cy="303.09" r="2.5" fill="#0a4274"/>
<circle cx="484.83" cy="303.96" r="2.5" fill="#0a4274"/>
<circle cx="487.92" cy="303.45" r="2.5" fill="#0a4274"/>
<circle cx="491.02" cy="303.10" r="2.5" fill="#0a4274"/>
<circle cx="494.11" cy="303.96" r="2.5" fill="#0a4274"/>
<circle cx="497.20" cy="303.44" r="2.5" fill="#0a4274"/>
<circle cx="458.00" cy="306.85" r="2.5" fill="#0a4274"/>
<circle cx="461.04" cy="305.99" r="2.5" fill="#0a4274"/>
<circle cx="464.08" cy="306.36" r="2.5" fill="#0a4274"/>
<circle cx="467.12" cy="306.85" r="2.5" fill="#0a4274"/>
<circle cx="470.15" cy="305.99" r="2.5" fill="#0a4274"/>
<circle cx="473.19" cy="306.37" r="2.5" fill="#0a4274"/>
<circle cx="476.23" cy="306.85" r="2.5" fill="#0a4274"/>
<circle cx="479.27" cy="305.98" r="2.5" fill="#0a4274"/>
<circle cx="482.31" cy="306.38" r="2.5" fill="#0a4274"/>
<circle cx="485.35" cy="306.84" r="2.5" fill="#0a4274"/>
<circle cx="488.38" cy="305.98" r="2.5" fill="#0a4274"/>
<circle cx="491.42" cy="306.38" r="2.5" fill="#0a4274"/>
<circle cx="494.46" cy="306.84" r="2.5" fill="#0a4274"/>
<circle cx="497.50" cy="305.97" r="2.5" fill="#0a4274"/>
<circle cx="460.00" cy="309.48" r="2.5" fill="#0a4274"/>
<circle cx="463.05" cy="309.41" r="2.5" fill="#0a4274"/>
<circle cx="466.10" cy="308.70" r="2.5" fill="#0a4274"/>
<circle cx="469.15" cy="309.49" r="2.5" fill="#0a4274"/>
<circle cx="472.20" cy="309.41" r="2.5" fill="#0a4274"/>
<circle cx="475.25" cy="308.70" r="2.5" fill="#0a4274"/>
<circle cx="478.30" cy="309.50" r="2.5" fill="#0a4274"/>
<circle cx="481.35" cy="309.40" r="2.5" fill="#0a4274"/>
<circle cx="484.40" cy="308.70" r="2.5" fill="#0a4274"/>
<circle cx="487.45" cy="309.50" r="2.5" fill="#0a4274"/>
<circle cx="490.50" cy="309.39" r="2.5" fill="#0a4274"/>
<circle cx="493.55" cy="308.70" r="2.5" fill="#0a4274"/>
<circle cx="496.60" cy="309.51" r="2.5" fill="#0a4274"/>
<circle cx="462.00" cy="311.70" r="2.5" fill="#0a4274"/>
<circle cx="465.00" cy="310.98" r="2.5" fill="#0a4274"/>
<circle cx="468.00" cy="310.92" r="2.5" fill="#0a4274"/>
<circle cx="471.00" cy="311.70" r="2.5" fill="#0a4274"/>
<circle cx="474.00" cy="310.97" r="2.5" fill="#0a4274"/>
<circle cx="477.00" cy="310.93" r="2.5" fill="#0a4274"/>
<circle cx="480.00" cy="311.70" r="2.5" fill="#0a4274"/>
<circle cx="483.00" cy="310.96" r="2.5" fill="#0a4274"/>
<circle cx="486.00" cy="310.94" r="2.5" fill="#0a4274"/>
<circle cx="489.00" cy="311.70" r="2.5" fill="#0a4274"/>
<circle cx="492.00" cy="310.96" r="2.5" fill="#0a4274"/>
<circle cx="495.00" cy="310.95" r="2.5" fill="#0a4274"/>
<circle cx="472.40" cy="311.80" r="2.5" fill="#0a4274"/>
<circle cx="478.10" cy="311.50" r="2.5" fill="#0a4274"/>
<circle cx="484.20" cy="312.80" r="2.5" fill="#0a4274"/>
<circle cx="505.00" cy="303.50" r="2.5" fill="#0a4274"/>
<circle cx="505.00" cy="306.40" r="2.5" fill="#0a4274"/>
<circle cx="505.00" cy="309.30" r="2.5" fill="#0a4274"/>
<circle cx="501.50" cy="307.50" r="2.5" fill="#0a4274"/>
<circle cx="479.90" cy="265.30" r="2.15" fill="#0f548f"/>
<circle cx="478.30" cy="272.60" r="2.15" fill="#0f548f"/>
<circle cx="481.60" cy="275.40" r="2.15" fill="#0f548f"/>
<circle cx="478.40" cy="283.90" r="2.15" fill="#0f548f"/>
<circle cx="472.50" cy="288.50" r="2.15" fill="#0f548f"/>
<circle cx="475.80" cy="288.77" r="2.15" fill="#0f548f"/>
<circle cx="479.10" cy="287.92" r="2.15" fill="#0f548f"/>
<circle cx="482.40" cy="288.51" r="2.15" fill="#0f548f"/>
<circle cx="485.70" cy="288.77" r="2.15" fill="#0f548f"/>
<circle cx="489.00" cy="287.92" r="2.15" fill="#0f548f"/>
<circle cx="492.30" cy="288.52" r="2.15" fill="#0f548f"/>
<circle cx="466.50" cy="290.60" r="2.15" fill="#0f548f"/>
<circle cx="470.00" cy="289.50" r="2.15" fill="#0f548f"/>
<circle cx="462.00" cy="291.96" r="2.15" fill="#0f548f"/>
<circle cx="465.03" cy="291.72" r="2.15" fill="#0f548f"/>
<circle cx="468.07" cy="291.12" r="2.15" fill="#0f548f"/>
<circle cx="471.10" cy="291.96" r="2.15" fill="#0f548f"/>
<circle cx="474.13" cy="291.71" r="2.15" fill="#0f548f"/>
<circle cx="477.17" cy="291.12" r="2.15" fill="#0f548f"/>
<circle cx="480.20" cy="291.97" r="2.15" fill="#0f548f"/>
<circle cx="483.23" cy="291.70" r="2.15" fill="#0f548f"/>
<circle cx="486.27" cy="291.13" r="2.15" fill="#0f548f"/>
<circle cx="489.30" cy="291.98" r="2.15" fill="#0f548f"/>
<circle cx="492.33" cy="291.69" r="2.15" fill="#0f548f"/>
<circle cx="495.37" cy="291.13" r="2.15" fill="#0f548f"/>
<circle cx="498.40" cy="291.98" r="2.15" fill="#0f548f"/>
<circle cx="462.00" cy="295.09" r="2.15" fill="#0f548f"/>
<circle cx="465.03" cy="294.26" r="2.15" fill="#0f548f"/>
<circle cx="468.07" cy="294.46" r="2.15" fill="#0f548f"/>
<circle cx="471.10" cy="295.08" r="2.15" fill="#0f548f"/>
<circle cx="474.13" cy="294.25" r="2.15" fill="#0f548f"/>
<circle cx="477.17" cy="294.47" r="2.15" fill="#0f548f"/>
<circle cx="480.20" cy="295.08" r="2.15" fill="#0f548f"/>
<circle cx="483.23" cy="294.24" r="2.15" fill="#0f548f"/>
<circle cx="486.27" cy="294.48" r="2.15" fill="#0f548f"/>
<circle cx="489.30" cy="295.08" r="2.15" fill="#0f548f"/>
<circle cx="492.33" cy="294.24" r="2.15" fill="#0f548f"/>
<circle cx="495.37" cy="294.48" r="2.15" fill="#0f548f"/>
<circle cx="498.40" cy="295.08" r="2.15" fill="#0f548f"/>
<circle cx="462.00" cy="297.77" r="2.15" fill="#0f548f"/>
<circle cx="465.03" cy="297.11" r="2.15" fill="#0f548f"/>
<circle cx="468.07" cy="297.93" r="2.15" fill="#0f548f"/>
<circle cx="471.10" cy="297.76" r="2.15" fill="#0f548f"/>
<circle cx="474.13" cy="297.11" r="2.15" fill="#0f548f"/>
<circle cx="477.17" cy="297.93" r="2.15" fill="#0f548f"/>
<circle cx="480.20" cy="297.75" r="2.15" fill="#0f548f"/>
<circle cx="483.23" cy="297.11" r="2.15" fill="#0f548f"/>
<circle cx="486.27" cy="297.94" r="2.15" fill="#0f548f"/>
<circle cx="489.30" cy="297.74" r="2.15" fill="#0f548f"/>
<circle cx="492.33" cy="297.11" r="2.15" fill="#0f548f"/>
<circle cx="495.37" cy="297.95" r="2.15" fill="#0f548f"/>
<circle cx="498.40" cy="297.74" r="2.15" fill="#0f548f"/>
<circle cx="462.00" cy="300.65" r="2.15" fill="#0f548f"/>
<circle cx="465.18" cy="300.84" r="2.15" fill="#0f548f"/>
<circle cx="468.36" cy="300.01" r="2.15" fill="#0f548f"/>
<circle cx="471.55" cy="300.66" r="2.15" fill="#0f548f"/>
<circle cx="474.73" cy="300.83" r="2.15" fill="#0f548f"/>
<circle cx="477.91" cy="300.01" r="2.15" fill="#0f548f"/>
<circle cx="481.09" cy="300.66" r="2.15" fill="#0f548f"/>
<circle cx="484.27" cy="300.83" r="2.15" fill="#0f548f"/>
<circle cx="487.45" cy="300.01" r="2.15" fill="#0f548f"/>
<circle cx="490.64" cy="300.67" r="2.15" fill="#0f548f"/>
<circle cx="493.82" cy="300.82" r="2.15" fill="#0f548f"/>
<circle cx="497.00" cy="300.01" r="2.15" fill="#0f548f"/>
<circle cx="457.00" cy="303.95" r="2.15" fill="#0f548f"/>
<circle cx="460.09" cy="303.47" r="2.15" fill="#0f548f"/>
<circle cx="463.18" cy="303.08" r="2.15" fill="#0f548f"/>
<circle cx="466.28" cy="303.95" r="2.15" fill="#0f548f"/>
<circle cx="469.37" cy="303.46" r="2.15" fill="#0f548f"/>
<circle cx="472.46" cy="303.09" r="2.15" fill="#0f548f"/>
<circle cx="475.55" cy="303.95" r="2.15" fill="#0f548f"/>
<circle cx="478.65" cy="303.45" r="2.15" fill="#0f548f"/>
<circle cx="481.74" cy="303.09" r="2.15" fill="#0f548f"/>
<circle cx="484.83" cy="303.96" r="2.15" fill="#0f548f"/>
<circle cx="487.92" cy="303.45" r="2.15" fill="#0f548f"/>
<circle cx="491.02" cy="303.10" r="2.15" fill="#0f548f"/>
<circle cx="494.11" cy="303.96" r="2.15" fill="#0f548f"/>
<circle cx="497.20" cy="303.44" r="2.15" fill="#0f548f"/>
<circle cx="458.00" cy="306.85" r="2.15" fill="#0f548f"/>
<circle cx="461.04" cy="305.99" r="2.15" fill="#0f548f"/>
<circle cx="464.08" cy="306.36" r="2.15" fill="#0f548f"/>
<circle cx="467.12" cy="306.85" r="2.15" fill="#0f548f"/>
<circle cx="470.15" cy="305.99" r="2.15" fill="#0f548f"/>
<circle cx="473.19" cy="306.37" r="2.15" fill="#0f548f"/>
<circle cx="476.23" cy="306.85" r="2.15" fill="#0f548f"/>
<circle cx="479.27" cy="305.98" r="2.15" fill="#0f548f"/>
<circle cx="482.31" cy="306.38" r="2.15" fill="#0f548f"/>
<circle cx="485.35" cy="306.84" r="2.15" fill="#0f548f"/>
<circle cx="488.38" cy="305.98" r="2.15" fill="#0f548f"/>
<circle cx="491.42" cy="306.38" r="2.15" fill="#0f548f"/>
<circle cx="494.46" cy="306.84" r="2.15" fill="#0f548f"/>
<circle cx="497.50" cy="305.97" r="2.15" fill="#0f548f"/>
<circle cx="460.00" cy="309.48" r="2.15" fill="#0f548f"/>
<circle cx="463.05" cy="309.41" r="2.15" fill="#0f548f"/>
<circle cx="466.10" cy="308.70" r="2.15" fill="#0f548f"/>
<circle cx="469.15" cy="309.49" r="2.15" fill="#0f548f"/>
<circle cx="472.20" cy="309.41" r="2.15" fill="#0f548f"/>
<circle cx="475.25" cy="308.70" r="2.15" fill="#0f548f"/>
<circle cx="478.30" cy="309.50" r="2.15" fill="#0f548f"/>
<circle cx="481.35" cy="309.40" r="2.15" fill="#0f548f"/>
<circle cx="484.40" cy="308.70" r="2.15" fill="#0f548f"/>
<circle cx="487.45" cy="309.50" r="2.15" fill="#0f548f"/>
<circle cx="490.50" cy="309.39" r="2.15" fill="#0f548f"/>
<circle cx="493.55" cy="308.70" r="2.15" fill="#0f548f"/>
<circle cx="496.60" cy="309.51" r="2.15" fill="#0f548f"/>
<circle cx="462.00" cy="311.70" r="2.15" fill="#0f548f"/>
<circle cx="465.00" cy="310.98" r="2.15" fill="#0f548f"/>
<circle cx="468.00" cy="310.92" r="2.15" fill="#0f548f"/>
<circle cx="471.00" cy="311.70" r="2.15" fill="#0f548f"/>
<circle cx="474.00" cy="310.97" r="2.15" fill="#0f548f"/>
<circle cx="477.00" cy="310.93" r="2.15" fill="#0f548f"/>
<circle cx="480.00" cy="311.70" r="2.15" fill="#0f548f"/>
<circle cx="483.00" cy="310.96" r="2.15" fill="#0f548f"/>
<circle cx="486.00" cy="310.94" r="2.15" fill="#0f548f"/>
<circle cx="489.00" cy="311.70" r="2.15" fill="#0f548f"/>
<circle cx="492.00" cy="310.96" r="2.15" fill="#0f548f"/>
<circle cx="495.00" cy="310.95" r="2.15" fill="#0f548f"/>
<circle cx="472.40" cy="311.80" r="2.15" fill="#0f548f"/>
<circle cx="478.10" cy="311.50" r="2.15" fill="#0f548f"/>
<circle cx="484.20" cy="312.80" r="2.15" fill="#0f548f"/>
<circle cx="505.00" cy="303.50" r="2.15" fill="#0f548f"/>
<circle cx="505.00" cy="306.40" r="2.15" fill="#0f548f"/>
<circle cx="505.00" cy="309.30" r="2.15" fill="#0f548f"/>
<circle cx="501.50" cy="307.50" r="2.15" fill="#0f548f"/>
<ellipse cx="469.8" cy="292.3" rx="1.12" ry="0.72" fill="#fff" fill-opacity="0.95"/><ellipse cx="489.4" cy="290.0" rx="1.00" ry="0.72" fill="#fff" fill-opacity="0.95"/><ellipse cx="489.3" cy="292.2" rx="2.38" ry="1.56" fill="#fff" fill-opacity="0.95"/><ellipse cx="464.3" cy="297.4" rx="1.25" ry="0.84" fill="#fff" fill-opacity="0.95"/><ellipse cx="475.8" cy="296.2" rx="1.25" ry="0.84" fill="#fff" fill-opacity="0.95"/><ellipse cx="496.1" cy="296.6" rx="1.25" ry="0.96" fill="#fff" fill-opacity="0.95"/><ellipse cx="472.4" cy="301.7" rx="1.25" ry="0.72" fill="#fff" fill-opacity="0.95"/><ellipse cx="483.0" cy="302.5" rx="1.38" ry="0.72" fill="#fff" fill-opacity="0.95"/><ellipse cx="490.1" cy="303.8" rx="1.25" ry="0.84" fill="#fff" fill-opacity="0.95"/><ellipse cx="488.0" cy="299.1" rx="0.75" ry="0.60" fill="#fff" fill-opacity="0.95"/><ellipse cx="466.0" cy="306.3" rx="0.88" ry="0.72" fill="#fff" fill-opacity="0.95"/><ellipse cx="478.3" cy="307.6" rx="1.12" ry="0.60" fill="#fff" fill-opacity="0.95"/><ellipse cx="498.6" cy="308.4" rx="1.00" ry="0.84" fill="#fff" fill-opacity="0.95"/><ellipse cx="172.7" cy="301.8" rx="1.25" ry="1.20" fill="#fff" fill-opacity="0.95"/><ellipse cx="179.6" cy="302.3" rx="1.12" ry="1.08" fill="#fff" fill-opacity="0.95"/><ellipse cx="326.7" cy="301.0" rx="1.25" ry="0.96" fill="#fff" fill-opacity="0.95"/><ellipse cx="320.6" cy="295.6" rx="2.00" ry="1.32" fill="#fff" fill-opacity="0.95"/><ellipse cx="309.1" cy="302.6" rx="0.75" ry="0.60" fill="#fff" fill-opacity="0.95"/><ellipse cx="304.4" cy="309.6" rx="0.75" ry="0.60" fill="#fff" fill-opacity="0.95"/><ellipse cx="321.8" cy="305.2" rx="0.75" ry="0.60" fill="#fff" fill-opacity="0.95"/><ellipse cx="165.8" cy="293.0" rx="3.3" ry="0.8" transform="rotate(-22 165.8 293)" fill="#fff"/><ellipse cx="157.2" cy="300.2" rx="2.2" ry="0.6" transform="rotate(62 157.2 300.2)" fill="#fff"/><g stroke="#1a1a1a" stroke-width="1.2"><line x1="487.6" y1="292.3" x2="491.0" y2="292.3"/><line x1="319.5" y1="294.6" x2="322" y2="294.6"/><line x1="470" y1="308.4" x2="471.3" y2="308.4"/></g>
<g stroke="#cb0a2a" stroke-width="1.4" stroke-dasharray="1.44 1.44" fill="none">
<line x1="47.5" y1="288.9" x2="201.7" y2="288.9"/>
<line x1="199.7" y1="285.1" x2="511" y2="285.1" stroke-dasharray="1.448 1.448"/>
</g>
</svg>
<div id="bd"></div>
</div></body></html>
